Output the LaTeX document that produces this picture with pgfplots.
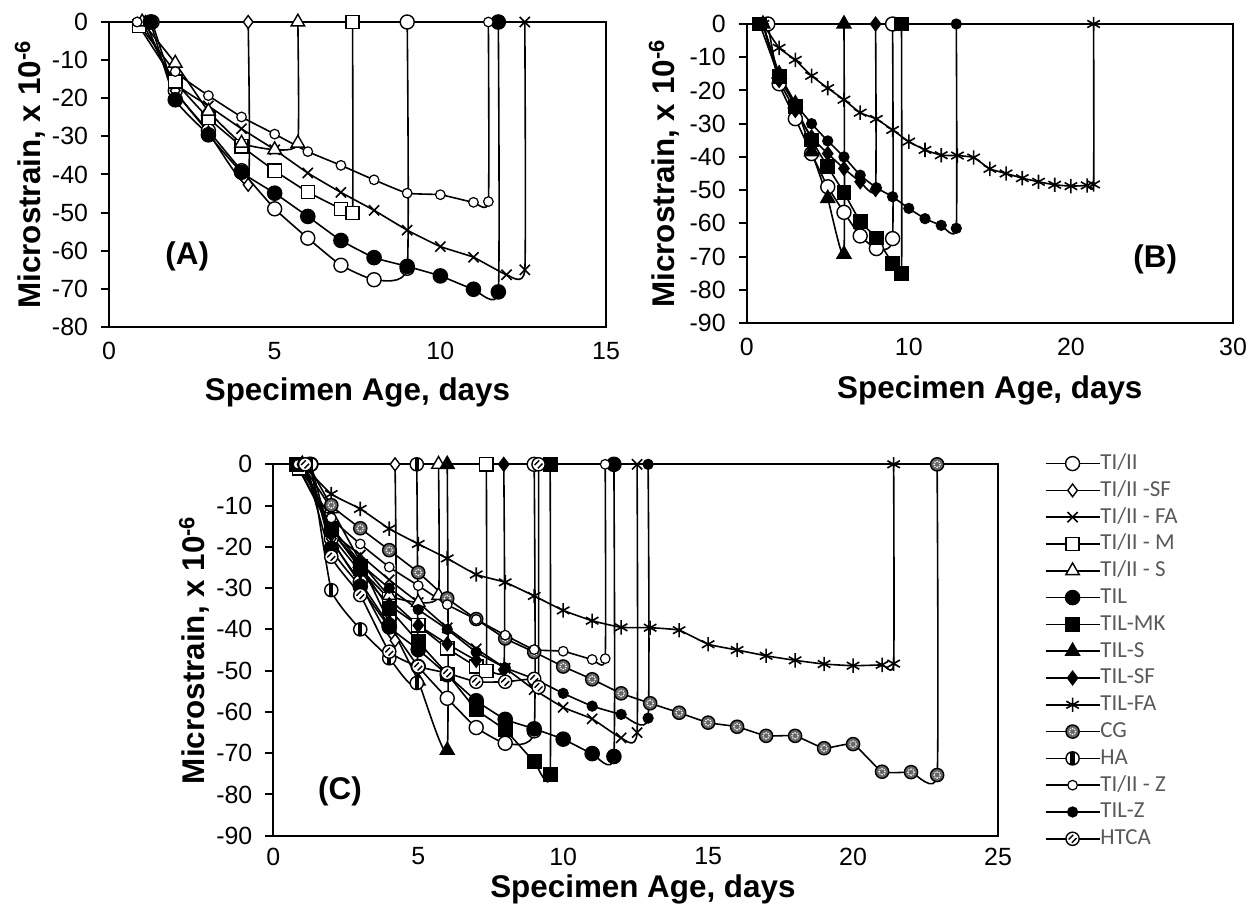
\documentclass[border=0pt]{standalone}
\usepackage{fontspec}
\setmainfont{Liberation Sans}
\newfontfamily\legfont{Carlito}
\usepackage{graphicx}
\usepackage{pgfplots}
\pgfplotsset{compat=1.18}
\usepackage{pgfplotstable}
\usetikzlibrary{plotmarks}
\definecolor{leggray}{RGB}{89,89,89}

\pgfdeclareplotmark{hacircle}{%
  \pgfpathcircle{\pgfpointorigin}{\pgfplotmarksize}%
  \pgfusepathqfillstroke
  \begin{pgfscope}%
  \pgfsetfillcolor{black}%
  \pgfpathrectangle{\pgfpoint{-0.32\pgfplotmarksize}{-0.95\pgfplotmarksize}}{\pgfpoint{0.64\pgfplotmarksize}{1.9\pgfplotmarksize}}%
  \pgfusepathqfill
  \end{pgfscope}%
}
\pgfdeclareplotmark{htca}{%
  \pgfpathcircle{\pgfpointorigin}{\pgfplotmarksize}%
  \pgfusepathqfillstroke
  \pgfpathmoveto{\pgfpoint{-0.6\pgfplotmarksize}{-0.1\pgfplotmarksize}}%
  \pgfpathlineto{\pgfpoint{0.1\pgfplotmarksize}{0.6\pgfplotmarksize}}%
  \pgfpathmoveto{\pgfpoint{-0.1\pgfplotmarksize}{-0.6\pgfplotmarksize}}%
  \pgfpathlineto{\pgfpoint{0.6\pgfplotmarksize}{0.1\pgfplotmarksize}}%
  \pgfusepathqstroke
}
\pgfdeclareplotmark{cgmark}{%
  \pgfpathcircle{\pgfpointorigin}{\pgfplotmarksize}%
  \pgfusepathqfillstroke
  \begin{pgfscope}%
  \pgfsetfillcolor{white}%
  \pgfpathcircle{\pgfpoint{0.45\pgfplotmarksize}{0pt}}{0.14\pgfplotmarksize}%
  \pgfpathcircle{\pgfpoint{-0.45\pgfplotmarksize}{0pt}}{0.14\pgfplotmarksize}%
  \pgfpathcircle{\pgfpoint{0pt}{0.45\pgfplotmarksize}}{0.14\pgfplotmarksize}%
  \pgfpathcircle{\pgfpoint{0pt}{-0.45\pgfplotmarksize}}{0.14\pgfplotmarksize}%
  \pgfpathcircle{\pgfpoint{0.32\pgfplotmarksize}{0.32\pgfplotmarksize}}{0.12\pgfplotmarksize}%
  \pgfpathcircle{\pgfpoint{-0.32\pgfplotmarksize}{0.32\pgfplotmarksize}}{0.12\pgfplotmarksize}%
  \pgfpathcircle{\pgfpoint{0.32\pgfplotmarksize}{-0.32\pgfplotmarksize}}{0.12\pgfplotmarksize}%
  \pgfpathcircle{\pgfpoint{-0.32\pgfplotmarksize}{-0.32\pgfplotmarksize}}{0.12\pgfplotmarksize}%
  \pgfusepathqfill
  \end{pgfscope}%
}

% ---------------- data ----------------
\pgfplotstableread{
x y
1.3 0
2 -18
3 -28.5
4 -39
5 -49
6 -56.7
7 -63.8
8 -67.6
9 -64.6
9 0
}\tTI
\pgfplotstableread{
x y
1.1 0
2 -18
3 -29
4.2 -42.7
4.2 0
}\tSF
\pgfplotstableread{
x y
1 0
2 -16
3 -22
4 -28
5 -33.5
6 -39.6
7 -44.7
8 -49.4
9 -54.6
10 -58.9
11 -61.7
12 -66.3
12.55 -65
12.55 0
}\tFA
\pgfplotstableread{
x y
0.9 -1
2 -15.6
3 -25.2
4 -32.6
5 -39
6 -44.6
7 -49
7.35 -50.1
7.35 0
}\tM
\pgfplotstableread{
x y
1 0
2 -10.8
3 -23.4
4 -31.8
5 -33.5
5.7 -31.8
5.7 0
}\tS
\pgfplotstableread{
x y
1.25 0
2 -20.4
3 -29.6
4 -39.4
5 -44.9
6 -51
7 -57.3
8 -61.8
9 -64.1
10 -66.6
11 -70.1
11.75 -70.8
11.75 0
}\tTIL
\pgfplotstableread{
x y
0.8 0
2 -15.8
3 -24.8
4 -34.9
5 -43
6 -50.8
7 -59.4
8 -64.4
9 -72.1
9.55 -75.2
9.55 0
}\tMK
\pgfplotstableread{
x y
1 0
2 -15
3 -24
4 -38.4
5 -52.5
6 -69.3
6 0
}\tTS
\pgfplotstableread{
x y
1 0
2 -17
3 -26
4 -34
5 -39
6 -43.5
7 -47.5
7.95 -49.8
7.95 0
}\tTSF
\pgfplotstableread{
x y
1 0
2 -7.2
3 -10.8
4 -15.6
5 -19.3
6 -22.8
7 -26.7
8 -28.6
9 -31.9
10 -35.4
11 -37.9
12 -39.5
13 -39.6
14 -40.2
15 -43.6
16 -45
17 -46.4
18 -47.5
19 -48.4
20 -48.8
21 -48.6
21.4 -48.3
21.4 0
}\tTFA
\pgfplotstableread{
x y
1.2 0
2 -9.9
3 -15.5
4 -20.8
5 -26.2
6 -32.5
7 -37.5
8 -42.2
9 -45.5
10 -49
11 -52.1
12 -55.5
13 -57.9
14 -60.2
15 -62.6
16 -63.6
17 -65.8
18 -65.8
19 -68.8
20 -67.8
21 -74.5
22 -74.6
22.9 -75.3
22.9 0
}\tCG
\pgfplotstableread{
x y
1.3 0
2 -30.5
3 -40
4 -47
4.95 -53
4.95 0
}\tHA
\pgfplotstableread{
x y
0.85 0
2 -13
3 -19.3
4 -24.9
5 -29.4
6 -34
7 -37.6
8 -41.4
9 -44.9
10 -45.3
11 -47.3
11.45 -47.1
11.45 0
}\tZ
\pgfplotstableread{
x y
1 0
2 -16
3 -24
4 -30
5 -35.2
6 -40
7 -45.5
8 -49.3
9 -52
10 -55.5
11 -58.6
12 -60.6
12.93 -61.5
12.93 0
}\tTZ
\pgfplotstableread{
x y
1.1 0
2 -22.4
3 -31.7
4 -45.4
5 -49
6 -50.6
7 -52.7
8 -52.7
9 -52
9.15 -54
9.15 0
}\tHT

\pgfplotsset{
  ser/.style={black, line width=0.8bp, smooth, tension=0.25},
  sTI/.style={ser, mark=*, mark size=3.5bp, mark options={solid, fill=white, line width=0.7bp}},
  sSF/.style={ser, mark=diamond*, mark size=3.2bp, mark options={solid, fill=white, line width=0.7bp}},
  sFA/.style={ser, mark=x, mark size=3.6bp, mark options={solid, line width=0.8bp}},
  sM/.style={ser, mark=square*, mark size=3.3bp, mark options={solid, fill=white, line width=0.7bp}},
  sS/.style={ser, mark=triangle*, mark size=3.9bp, mark options={solid, fill=white, line width=0.7bp}},
  sTIL/.style={ser, mark=*, mark size=3.5bp, mark options={solid, fill=black}},
  sMK/.style={ser, mark=square*, mark size=3.3bp, mark options={solid, fill=black}},
  sTS/.style={ser, mark=triangle*, mark size=3.9bp, mark options={solid, fill=black}},
  sTSF/.style={ser, mark=diamond*, mark size=3.3bp, mark options={solid, fill=black}},
  sTFA/.style={ser, mark=asterisk, mark size=3.6bp, mark options={solid, line width=0.8bp}},
  sCG/.style={ser, mark=cgmark, mark size=3.3bp, mark options={solid, fill=black!60, line width=0.7bp}},
  sHA/.style={ser, mark=hacircle, mark size=3.3bp, mark options={solid, fill=white, line width=0.7bp}},
  sZ/.style={ser, mark=*, mark size=2.4bp, mark options={solid, fill=white, line width=0.6bp}},
  sTZ/.style={ser, mark=*, mark size=2.4bp, mark options={solid, fill=black}},
  sHT/.style={ser, mark=htca, mark size=3.3bp, mark options={solid, fill=white, line width=0.7bp}},
  panel/.style={
    scale only axis, anchor=south west, clip=false,
    axis line style={line width=1bp, black},
    tick align=outside, ytick pos=left, xtick pos=bottom,
    major tick length=4bp,
    xtick style={draw=none},
    ytick style={line width=1bp, black},
    tick label style={font=\fontsize{12.5}{14}\selectfont},
    xticklabel style={yshift=0bp},
    yticklabel style={xshift=-3bp},
    label style={font=\bfseries\fontsize{15.75}{18}\selectfont},
    xmin=0, ymax=0,
    legend image code/.code={\draw[mark repeat=2,mark phase=2,##1] plot coordinates {(0bp,0bp) (13.5bp,0bp) (27bp,0bp)};},
  },
}

\begin{document}
\begin{tikzpicture}
\useasboundingbox (0,0) rectangle (629bp,454.5bp);

% ---------- Panel A ----------
\begin{axis}[panel, at={(54.5bp,291bp)}, width=248.5bp, height=152.5bp,
  xmax=15, ymin=-80,
  xtick={0,5,10,15}, xticklabels={0,5,10,15},
  ytick={-80,-70,-60,-50,-40,-30,-20,-10,0},
  yticklabels={-80,-70,-60,-50,-40,-30,-20,-10,0},
  xlabel={Specimen Age, days}, ylabel={Microstrain, x 10\textsuperscript{-6}},
  xlabel style={at={(axis description cs:0.5,-0.215)}, anchor=center},
  ylabel style={at={(axis description cs:-0.159,0.5)}, anchor=center, rotate=0},
]
\addplot[sTI] table {\tTI};
\addplot[sSF] table {\tSF};
\addplot[sFA] table {\tFA};
\addplot[sM] table {\tM};
\addplot[sS] table {\tS};
\addplot[sTIL] table {\tTIL};
\addplot[sZ] table {\tZ};
\node[font=\bfseries\fontsize{15.75}{18}\selectfont] at (axis cs:2.36,-61.6) {(A)};
\end{axis}

% ---------- Panel B ----------
\begin{axis}[panel, at={(373.35bp,293bp)}, width=243.15bp, height=149.5bp,
  xmax=30, ymin=-90,
  xtick={0,10,20,30}, xticklabels={0,10,20,30},
  ytick={-90,-80,-70,-60,-50,-40,-30,-20,-10,0},
  yticklabels={-90,-80,-70,-60,-50,-40,-30,-20,-10,0},
  xlabel={Specimen Age, days}, ylabel={Microstrain, x 10\textsuperscript{-6}},
  xlabel style={at={(axis description cs:0.5,-0.225)}, anchor=center},
  ylabel style={at={(axis description cs:-0.170,0.5)}, anchor=center, rotate=0},
]
\addplot[sTI] table {\tTI};
\addplot[sMK] table {\tMK};
\addplot[sTS] table {\tTS};
\addplot[sTSF] table {\tTSF};
\addplot[sTFA] table {\tTFA};
\addplot[sTZ] table {\tTZ};
\node[font=\bfseries\fontsize{15.75}{18}\selectfont] at (axis cs:25.2,-71) {(B)};
\end{axis}

% ---------- Panel C ----------
\begin{axis}[panel, at={(136.65bp,36.65bp)}, width=362.35bp, height=185.7bp,
  xmax=25, ymin=-90,
  xtick={0,5,10,15,20,25}, xticklabels={0,5,10,15,20,25},
  xticklabel style={yshift=1.5bp},
  ytick={-90,-80,-70,-60,-50,-40,-30,-20,-10,0},
  yticklabels={-90,-80,-70,-60,-50,-40,-30,-20,-10,0},
  xlabel={Specimen Age, days}, ylabel={Microstrain, x 10\textsuperscript{-6}},
  xlabel style={at={(axis description cs:0.51,-0.145)}, anchor=center},
  ylabel style={at={(axis description cs:-0.109,0.5)}, anchor=center, rotate=0},
  legend cell align=left,
  legend style={at={(1.064,1.03)}, anchor=north west, draw=none, fill=none,
    font=\legfont\fontsize{11.5}{12}\selectfont\color{leggray},
    row sep=3.4bp, inner sep=0pt,
    nodes={inner sep=0pt, text height=8bp, text depth=2bp},
    /tikz/every even column/.append style={column sep=2.5bp}},
]
\addplot[sTI] table {\tTI}; \addlegendentry{TI/II}
\addplot[sSF] table {\tSF}; \addlegendentry{TI/II -SF}
\addplot[sFA] table {\tFA}; \addlegendentry{TI/II - FA}
\addplot[sM] table {\tM}; \addlegendentry{TI/II - M}
\addplot[sS] table {\tS}; \addlegendentry{TI/II - S}
\addplot[sTIL] table {\tTIL}; \addlegendentry{TIL}
\addplot[sMK] table {\tMK}; \addlegendentry{TIL-MK}
\addplot[sTS] table {\tTS}; \addlegendentry{TIL-S}
\addplot[sTSF] table {\tTSF}; \addlegendentry{TIL-SF}
\addplot[sTFA] table {\tTFA}; \addlegendentry{TIL-FA}
\addplot[sCG] table {\tCG}; \addlegendentry{CG}
\addplot[sHA] table {\tHA}; \addlegendentry{HA}
\addplot[sZ] table {\tZ}; \addlegendentry{TI/II - Z}
\addplot[sTZ] table {\tTZ}; \addlegendentry{TIL-Z}
\addplot[sHT] table {\tHT}; \addlegendentry{HTCA}
\node[font=\bfseries\fontsize{15.75}{18}\selectfont] at (axis cs:2.3,-79.3) {(C)};
\end{axis}
\end{tikzpicture}
\end{document}
